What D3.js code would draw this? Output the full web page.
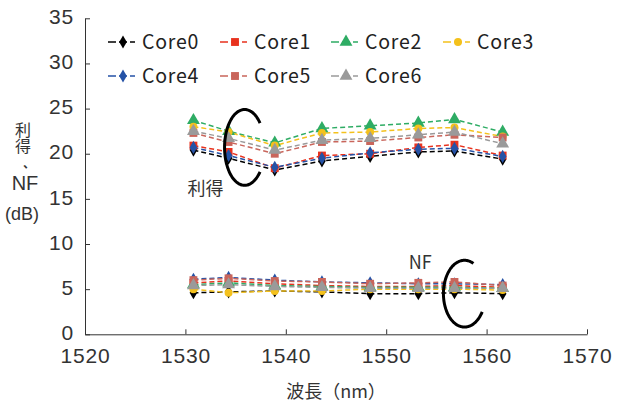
<!DOCTYPE html>
<html lang="ja">
<head>
    <meta charset="UTF-8">
    <title>利得・NF vs 波長</title>
    <script src="https://d3js.org/d3.v7.min.js"></script>
    <style>
        body { margin: 0; background: #fff; }
        svg { display: block; font-family: "Noto Sans CJK JP", "Noto Sans", sans-serif; }
        .tick text { fill: #333; font-family: "Liberation Sans", sans-serif; font-size: 21px; letter-spacing: 0.8px; }
    </style>
</head>
<body>
    <div id="chart"></div>

    <script>
        // Data
        const wavelengths = [1530.8, 1534.3, 1538.9, 1543.6, 1548.4, 1553.2, 1556.8, 1561.6];
        const coreNames = ["Core0", "Core1", "Core2", "Core3", "Core4", "Core5", "Core6"];
        const coreColors = ["#000000", "#e8321e", "#2eac64", "#f4c11c", "#2552a6", "#c9655b", "#9a9a9a"];
        const coreSymbols = ["diamond", "square", "triangle", "circle", "diamond", "square", "triangle"];

        const gain0 = [20.4, 19.5, 18.2, 19.2, 19.7, 20.2, 20.3, 19.4];
        const gain1 = [20.9, 20.2, 18.4, 19.8, 20.0, 20.7, 21.0, 19.8];
        const gain2 = [23.7, 22.5, 21.2, 22.8, 23.1, 23.4, 23.8, 22.4];
        const gain3 = [23.0, 22.4, 20.9, 22.3, 22.4, 22.8, 22.9, 21.9];
        const gain4 = [20.7, 19.8, 18.5, 19.5, 20.1, 20.5, 20.6, 19.7];
        const gain5 = [22.3, 21.3, 20.0, 21.3, 21.4, 21.8, 22.1, 21.8];
        const gain6 = [22.5, 21.7, 20.4, 21.5, 21.7, 22.1, 22.4, 21.1];

        const nf0 = [4.6, 4.7, 4.8, 4.7, 4.5, 4.5, 4.6, 4.5];
        const nf1 = [5.7, 5.9, 5.6, 5.4, 5.3, 5.3, 5.4, 5.2];
        const nf2 = [5.5, 5.7, 5.4, 5.3, 5.2, 5.2, 5.2, 5.1];
        const nf3 = [5.0, 4.6, 4.8, 4.8, 5.0, 5.0, 5.0, 4.9];
        const nf4 = [6.1, 6.3, 6.0, 5.8, 5.7, 5.6, 5.6, 5.5];
        const nf5 = [6.0, 6.2, 5.9, 5.8, 5.6, 5.7, 5.8, 5.4];
        const nf6 = [5.4, 5.5, 5.3, 5.2, 5.1, 5.1, 5.1, 5.1];

        const gains = [gain0, gain1, gain2, gain3, gain4, gain5, gain6];
        const nfs = [nf0, nf1, nf2, nf3, nf4, nf5, nf6];

        const xTicks = [1520, 1530, 1540, 1550, 1560, 1570];
        const yTicks = [0, 5, 10, 15, 20, 25, 30, 35];

        // Layout
        const width = 621, height = 405;
        const svg = d3.select("#chart").append("svg")
            .attr("width", width)
            .attr("height", height);

        const x = d3.scaleLinear().domain([1520, 1570]).range([85, 587]);
        const y = d3.scaleLinear().domain([0, 35]).range([334.3, 18.3]);

        // Axes (ticks point inward)
        svg.append("g")
            .attr("transform", `translate(0,${y(0)})`)
            .call(d3.axisBottom(x).tickValues(xTicks).tickFormat(d3.format("d"))
                .tickSizeInner(-5).tickSizeOuter(0).tickPadding(14));

        const yAxis = svg.append("g")
            .attr("transform", `translate(${x(1520)},0)`)
            .call(d3.axisLeft(y).tickValues(yTicks)
                .tickSizeInner(-5).tickSizeOuter(0).tickPadding(11));
        yAxis.selectAll("text").attr("dy", "0.25em");

        svg.selectAll(".domain, .tick line").attr("stroke", "#333").attr("stroke-width", 1);

        // Axis titles
        svg.append("text")
            .attr("x", 336).attr("y", 398)
            .attr("text-anchor", "middle")
            .style("font-size", "18px").attr("fill", "#333")
            .text("波長（nm）");

        // y title: kanji written vertically, then the comma, NF and (dB)
        svg.append("text")
            .attr("x", 23).attr("y", 122)
            .attr("writing-mode", "vertical-rl")
            .attr("fill", "#333")
            .style("font-size", "16px")
            .text("利得");

        svg.append("text")
            .attr("x", 23).attr("y", 168)
            .attr("fill", "#333")
            .style("font-size", "12px")
            .style("font-weight", "bold")
            .text("、");

        svg.append("text")
            .attr("x", 25).attr("y", 190)
            .attr("text-anchor", "middle")
            .attr("fill", "#333")
            .style("font-family", "'Liberation Sans', sans-serif")
            .style("font-size", "20px")
            .text("NF");

        svg.append("text")
            .attr("x", 22).attr("y", 220)
            .attr("text-anchor", "middle")
            .attr("fill", "#333")
            .style("font-family", "'Liberation Sans', sans-serif")
            .style("font-size", "18px")
            .text("(dB)");

        // Series
        const symbolType = {
            diamond: d3.symbolDiamond,
            square: d3.symbolSquare,
            triangle: d3.symbolTriangle,
            circle: d3.symbolCircle
        };
        const symbolSize = { diamond: 50, square: 62, triangle: 72, circle: 50 };

        const line = d3.line()
            .x((d, i) => x(wavelengths[i]))
            .y(d => y(d));

        const series = coreNames.map((name, i) => ({
            name, color: coreColors[i], symbol: coreSymbols[i], gain: gains[i], nf: nfs[i]
        }));

        series.forEach(s => {
            [s.gain, s.nf].forEach(vals => {
                svg.append("path")
                    .datum(vals)
                    .attr("fill", "none")
                    .attr("stroke", s.color)
                    .attr("stroke-width", 1.5)
                    .attr("stroke-dasharray", "5,3")
                    .attr("d", line);
            });
        });

        series.forEach(s => {
            const pts = s.gain.concat(s.nf).map((v, k) => ({ x: wavelengths[k % wavelengths.length], v }));
            svg.selectAll(null)
                .data(pts)
                .enter().append("path")
                .attr("transform", d => `translate(${x(d.x)},${y(d.v)})`)
                .attr("d", d3.symbol().type(symbolType[s.symbol]).size(symbolSize[s.symbol]))
                .attr("fill", s.color);
        });

        // Legend
        const legendCols = [108, 220, 331, 443];
        const legendRows = [42, 76];
        const legend = svg.append("g");
        series.forEach((s, i) => {
            const lx = legendCols[i % 4];
            const ly = legendRows[Math.floor(i / 4)];
            const g = legend.append("g").attr("transform", `translate(${lx},${ly})`);
            g.append("line")
                .attr("x1", 0).attr("x2", 27)
                .attr("stroke", s.color).attr("stroke-width", 1.5)
                .attr("stroke-dasharray", "8,3");
            g.append("path")
                .attr("transform", "translate(15,0)")
                .attr("d", d3.symbol().type(symbolType[s.symbol]).size(symbolSize[s.symbol]))
                .attr("fill", s.color);
            g.append("text")
                .attr("x", 34).attr("y", 0)
                .attr("dy", "0.36em")
                .attr("fill", "#222")
                .style("font-size", "19.5px")
                .style("letter-spacing", "0.8px")
                .text(s.name);
        });

        // Annotations: open ellipse brackets and labels (data coordinates)
        const annotations = [
            { label: "利得", lx: 1532.0, ly: 16.2, cx: 1535.9, cy: 20.7, rx: 2.0, ry: 4.2, a0: 40, a1: 320 },
            { label: "NF", lx: 1553.4, ly: 8.0, cx: 1557.8, cy: 4.5, rx: 2.1, ry: 3.7, a0: 33, a1: 296 }
        ];
        annotations.forEach(a => {
            const pxRx = x(a.cx + a.rx) - x(a.cx);
            const pxRy = y(a.cy) - y(a.cy + a.ry);
            const steps = d3.range(a.a0, a.a1 + 1, 2).map(deg => {
                const t = deg * Math.PI / 180;
                return [x(a.cx) + pxRx * Math.cos(t), y(a.cy) + pxRy * Math.sin(t)];
            });
            svg.append("path")
                .attr("d", d3.line().curve(d3.curveBasis)(steps))
                .attr("fill", "none")
                .attr("stroke", "#000")
                .attr("stroke-width", 3);
            svg.append("text")
                .attr("x", x(a.lx)).attr("y", y(a.ly))
                .attr("dy", "0.36em")
                .attr("text-anchor", "middle")
                .attr("fill", "#333")
                .style("font-size", "18px")
                .text(a.label);
        });
    </script>
</body>
</html>
